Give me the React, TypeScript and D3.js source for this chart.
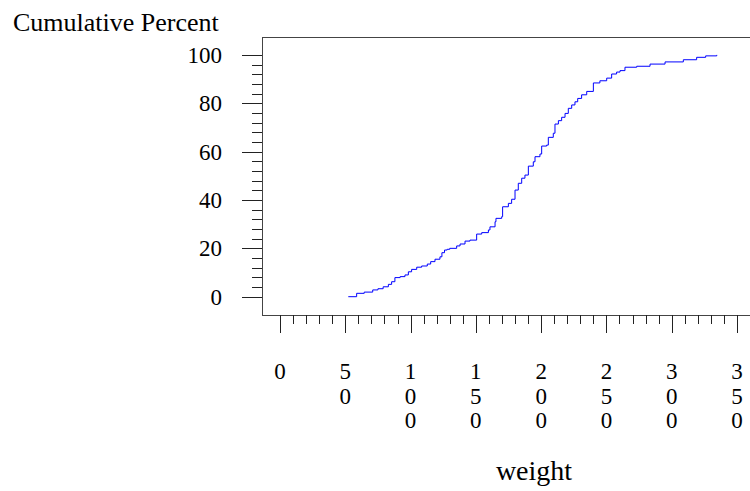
import React from 'react';
import * as d3 from 'd3';

// step points of the empirical cdf: weight where the curve jumps, and the new cumulative percent
const weights = [
  52.3, 58.7, 64.5, 71, 75, 79, 83, 85.5, 88, 92, 95.7, 98.3, 100.8, 104.7, 108.5, 112.8,
  115.4, 118.7, 122.5, 124, 126, 128, 130, 135.3, 137.9, 141.7, 145.5, 150.6, 154.5, 159.6,
  160.8, 164.7, 165.4, 169.8, 170.5, 174.9, 177.4, 180, 182.5, 185.1, 187.6, 190.2, 194,
  195.3, 199.1, 200.4, 204.2, 205.5, 209.3, 210.6, 213.2, 215.7, 218.3, 220.8, 223.4, 225.9,
  228, 231, 234.9, 240, 245, 250.2, 254, 257.8, 260.4, 264.2, 273.2, 283.4, 294.9, 308.9,
  319.1, 326, 334.5,
];
const cumPercent = [
  0, 1.4, 1.9, 2.8, 3.3, 4.1, 5.1, 6.2, 7.9, 8.3, 9.0, 10.3, 11.3, 12.2, 12.7, 13.5,
  14.5, 15.5, 16.5, 18.2, 19.3, 19.6, 20, 21, 21.8, 23, 23.4, 25.9, 26.5, 27.6,
  28.9, 31, 32.4, 33.1, 37.2, 38.6, 40.3, 44.1, 46.9, 49, 50.3, 54, 55.8,
  57.9, 59, 62.3, 62.7, 65.9, 67.6, 71.4, 72.8, 74.2, 75.8, 77.9, 79.3, 80.6,
  82, 83.5, 84.9, 88.4, 89.3, 90.4, 92.1, 92.9, 93.5, 94.9, 95.3, 96.2, 97.1, 98,
  99, 99.6, 100,
];

const yTicks = [0, 20, 40, 60, 80, 100];
const yMinor = d3.range(0, 101, 4).filter((v) => v % 20 !== 0);
const xTicks = [0, 50, 100, 150, 200, 250, 300, 350];
const xMinor = d3.range(0, 351, 10).filter((v) => v % 50 !== 0);

const W = 750;
const H = 491;
const frameLeft = 262;
const frameTop = 37;
const frameBottom = 315;

export default function App() {
  const x = d3.scaleLinear().domain([0, 350]).range([280, 737]);
  const y = d3.scaleLinear().domain([0, 100]).range([296.7, 54.9]);

  const pts: [number, number][] = weights.map((w, i) => [w, cumPercent[i]]);
  const line = d3
    .line<[number, number]>()
    .x((d) => x(d[0]))
    .y((d) => y(d[1]))
    .curve(d3.curveStepAfter);

  const font = "'Liberation Serif', 'Times New Roman', serif";

  return (
    <svg
      width={W}
      height={H}
      style={{ position: 'absolute', left: 0, top: 0, background: '#fff' }}
      fontFamily={font}
    >
      {/* frame */}
      <g stroke="#444" strokeWidth={1} fill="none">
        <line x1={frameLeft} x2={W} y1={frameTop + 0.5} y2={frameTop + 0.5} />
        <line x1={frameLeft + 0.5} x2={frameLeft + 0.5} y1={frameTop} y2={frameBottom} />
        <line x1={frameLeft} x2={W} y1={frameBottom + 0.5} y2={frameBottom + 0.5} />
      </g>

      {/* y axis */}
      <g stroke="#222" strokeWidth={1}>
        {yTicks.map((t) => (
          <line key={t} x1={242} x2={frameLeft} y1={Math.round(y(t)) + 0.5} y2={Math.round(y(t)) + 0.5} />
        ))}
        {yMinor.map((t) => (
          <line key={t} x1={252} x2={frameLeft} y1={Math.round(y(t)) + 0.5} y2={Math.round(y(t)) + 0.5} />
        ))}
      </g>
      {yTicks.map((t) => (
        <text key={t} x={222} y={y(t) + 8} textAnchor="end" fontSize={23} fill="#000">
          {t}
        </text>
      ))}
      <text x={13} y={31} fontSize={26} fill="#000">
        Cumulative Percent
      </text>

      {/* x axis */}
      <g stroke="#222" strokeWidth={1}>
        {xTicks.map((t) => (
          <line key={t} x1={Math.round(x(t)) + 0.5} x2={Math.round(x(t)) + 0.5} y1={frameBottom} y2={333} />
        ))}
        {xMinor.map((t) => (
          <line key={t} x1={Math.round(x(t)) + 0.5} x2={Math.round(x(t)) + 0.5} y1={frameBottom} y2={324} />
        ))}
      </g>
      {xTicks.map((t) => (
        <text key={t} textAnchor="middle" fontSize={23} fill="#000">
          {String(t)
            .split('')
            .map((ch, i) => (
              <tspan key={i} x={x(t)} y={379 + i * 24.5}>
                {ch}
              </tspan>
            ))}
        </text>
      ))}
      <text x={534} y={480} textAnchor="middle" fontSize={28} fill="#000">
        weight
      </text>

      {/* ecdf */}
      <path d={line(pts) ?? ''} fill="none" stroke="#0000ff" strokeWidth={1} />
    </svg>
  );
}
